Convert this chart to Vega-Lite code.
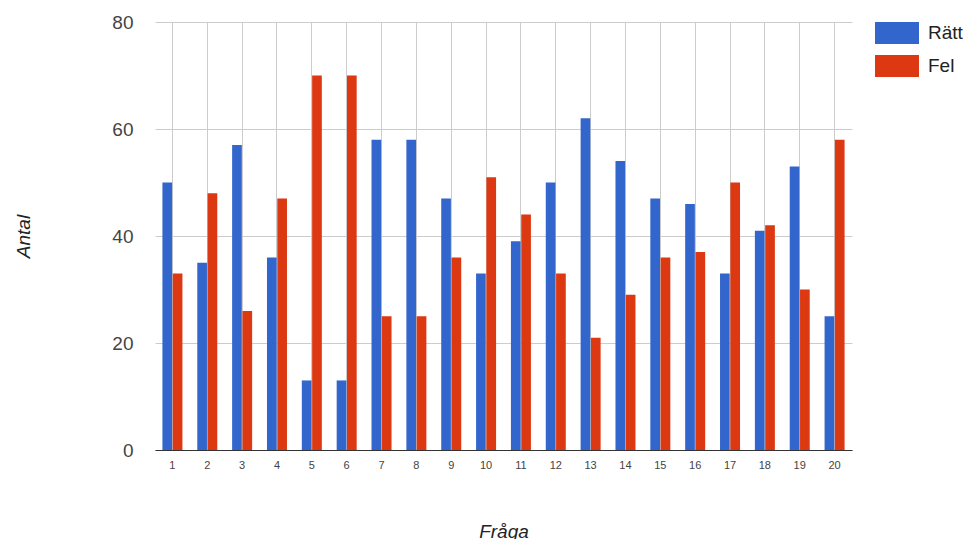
{
  "$schema": "https://vega.github.io/schema/vega-lite/v6.json",
  "autosize": "none",
  "width": 697,
  "height": 428,
  "padding": {"left": 155, "top": 22, "right": 121, "bottom": 89},
  "background": "#ffffff",
  "data": {
    "values": [
      {"fraga": 1, "svar": "Rätt", "antal": 50}, {"fraga": 1, "svar": "Fel", "antal": 33},
      {"fraga": 2, "svar": "Rätt", "antal": 35}, {"fraga": 2, "svar": "Fel", "antal": 48},
      {"fraga": 3, "svar": "Rätt", "antal": 57}, {"fraga": 3, "svar": "Fel", "antal": 26},
      {"fraga": 4, "svar": "Rätt", "antal": 36}, {"fraga": 4, "svar": "Fel", "antal": 47},
      {"fraga": 5, "svar": "Rätt", "antal": 13}, {"fraga": 5, "svar": "Fel", "antal": 70},
      {"fraga": 6, "svar": "Rätt", "antal": 13}, {"fraga": 6, "svar": "Fel", "antal": 70},
      {"fraga": 7, "svar": "Rätt", "antal": 58}, {"fraga": 7, "svar": "Fel", "antal": 25},
      {"fraga": 8, "svar": "Rätt", "antal": 58}, {"fraga": 8, "svar": "Fel", "antal": 25},
      {"fraga": 9, "svar": "Rätt", "antal": 47}, {"fraga": 9, "svar": "Fel", "antal": 36},
      {"fraga": 10, "svar": "Rätt", "antal": 33}, {"fraga": 10, "svar": "Fel", "antal": 51},
      {"fraga": 11, "svar": "Rätt", "antal": 39}, {"fraga": 11, "svar": "Fel", "antal": 44},
      {"fraga": 12, "svar": "Rätt", "antal": 50}, {"fraga": 12, "svar": "Fel", "antal": 33},
      {"fraga": 13, "svar": "Rätt", "antal": 62}, {"fraga": 13, "svar": "Fel", "antal": 21},
      {"fraga": 14, "svar": "Rätt", "antal": 54}, {"fraga": 14, "svar": "Fel", "antal": 29},
      {"fraga": 15, "svar": "Rätt", "antal": 47}, {"fraga": 15, "svar": "Fel", "antal": 36},
      {"fraga": 16, "svar": "Rätt", "antal": 46}, {"fraga": 16, "svar": "Fel", "antal": 37},
      {"fraga": 17, "svar": "Rätt", "antal": 33}, {"fraga": 17, "svar": "Fel", "antal": 50},
      {"fraga": 18, "svar": "Rätt", "antal": 41}, {"fraga": 18, "svar": "Fel", "antal": 42},
      {"fraga": 19, "svar": "Rätt", "antal": 53}, {"fraga": 19, "svar": "Fel", "antal": 30},
      {"fraga": 20, "svar": "Rätt", "antal": 25}, {"fraga": 20, "svar": "Fel", "antal": 58}
    ]
  },
  "mark": {"type": "bar"},
  "encoding": {
    "x": {
      "field": "fraga",
      "type": "ordinal",
      "sort": null,
      "scale": {"paddingInner": 0, "paddingOuter": 0},
      "axis": {
        "title": "Fråga",
        "titleFont": "Liberation Sans",
        "titleFontSize": 19,
        "titleFontStyle": "italic",
        "titleFontWeight": "normal",
        "titleColor": "#222222",
        "titleBaseline": "middle",
        "titleY": 81,
        "labelAngle": 0,
        "labelFont": "Liberation Sans",
        "labelFontSize": 11,
        "labelColor": "#444444",
        "labelPadding": 9,
        "ticks": false,
        "bandPosition": 0.5,
        "grid": true,
        "gridColor": "#cccccc",
        "gridWidth": 1,
        "domainColor": "#333333",
        "domainWidth": 1
      }
    },
    "xOffset": {
      "field": "svar",
      "type": "nominal",
      "sort": ["Rätt", "Fel"],
      "scale": {"paddingInner": 0.06, "paddingOuter": 0.72}
    },
    "y": {
      "field": "antal",
      "type": "quantitative",
      "scale": {"domain": [0, 80], "nice": false},
      "axis": {
        "title": "Antal",
        "titleFont": "Liberation Sans",
        "titleFontSize": 19,
        "titleFontStyle": "italic",
        "titleFontWeight": "normal",
        "titleColor": "#222222",
        "titleBaseline": "middle",
        "titleX": -132,
        "titleY": 214,
        "values": [0, 20, 40, 60, 80],
        "labelFont": "Liberation Sans",
        "labelFontSize": 19,
        "labelColor": "#444444",
        "labelPadding": 22,
        "ticks": false,
        "domain": false,
        "grid": true,
        "gridColor": "#cccccc",
        "gridWidth": 1
      }
    },
    "color": {
      "field": "svar",
      "type": "nominal",
      "scale": {"domain": ["Rätt", "Fel"], "range": ["#3366cc", "#dc3912"]},
      "legend": {
        "title": null,
        "orient": "none",
        "legendX": 720,
        "legendY": -11,
        "symbolType": "M-1,-0.5H1V0.5H-1Z",
        "symbolSize": 1936,
        "symbolStrokeWidth": 0,
        "symbolOpacity": 1,
        "labelFont": "Liberation Sans",
        "labelFontSize": 19,
        "labelColor": "#222222",
        "labelOffset": 9,
        "rowPadding": -9
      }
    }
  },
  "config": {"view": {"stroke": null}}
}
